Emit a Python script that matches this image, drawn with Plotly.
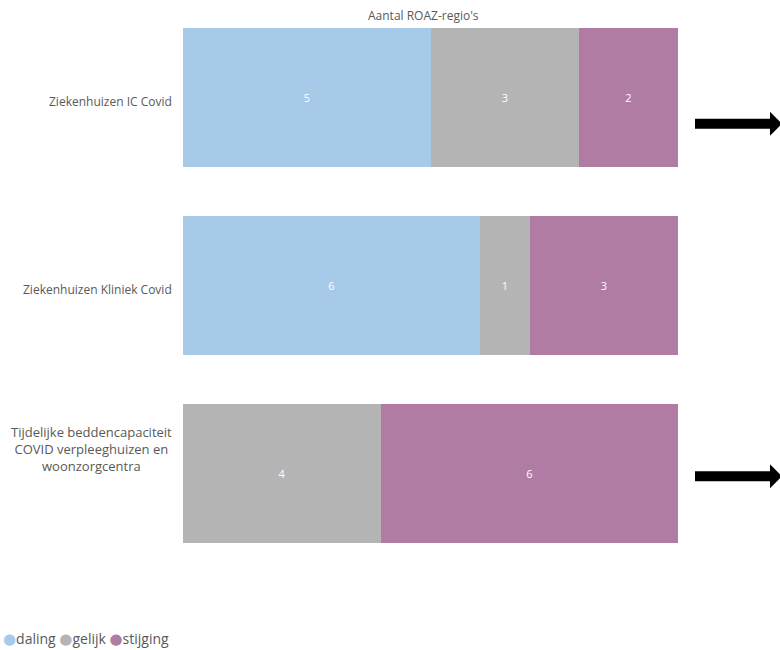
import plotly.graph_objects as go

categories = ["Ziekenhuizen IC Covid", "Ziekenhuizen Kliniek Covid",
              "Tijdelijke beddencapaciteit<br>COVID verpleeghuizen en<br>woonzorgcentra"]
series_names = ["daling", "gelijk", "stijging"]
daling = [5, 6, 0]
gelijk = [3, 1, 4]
stijging = [2, 3, 6]
colors = ["#a6cae8", "#b4b4b4", "#b07ca4"]
arrow_rows = [0, 2]
title_text = "Aantal ROAZ-regio's"

W, H = 780, 650
L, R = 183, 678
T, B = 3.5, 567.5
FONT = "Open Sans, Segoe UI, DejaVu Sans, sans-serif"

ypos = list(range(len(categories)))
fig = go.Figure()
for name, vals, col in zip(series_names, [daling, gelijk, stijging], colors):
    fig.add_trace(go.Bar(
        y=ypos, x=vals, name=name, orientation="h",
        marker=dict(color=col, line=dict(width=0)),
        width=0.74,
        text=[str(v) if v else "" for v in vals],
        textposition="inside", insidetextanchor="middle",
        textfont=dict(color="white", size=11, family=FONT),
        hoverinfo="x+name", showlegend=False,
    ))

def px_x(p):
    return (p - L) / (R - L)

def px_y(p):
    return 1 - (p - T) / (B - T)

shapes = []
annotations = []
label_offsets = [4, 4, -24]
label_sizes = [12, 12, 13]
for i, cat in enumerate(categories):
    cy = T + (i + 0.5) * (B - T) / len(categories)
    annotations.append(dict(
        x=px_x(174), y=px_y(cy + label_offsets[i]), xref="paper", yref="paper",
        text=cat, showarrow=False, xanchor="right", yanchor="middle", align="center",
        font=dict(size=label_sizes[i], color="#595959", family=FONT)))

for i in arrow_rows:
    cy = T + (i + 0.5) * (B - T) / len(categories)
    ay = cy + (26 if i == 0 else 3)
    pts = [(695, ay - 5), (770, ay - 5), (770, ay - 12), (782, ay),
           (770, ay + 12), (770, ay + 5), (695, ay + 5)]
    path = "M " + " L ".join(f"{px_x(x):.5f},{px_y(y):.5f}" for x, y in pts) + " Z"
    shapes.append(dict(type="path", xref="paper", yref="paper", path=path,
                       fillcolor="black", line=dict(width=0)))

annotations.append(dict(x=px_x(423), y=px_y(15), xref="paper", yref="paper",
                        text=title_text, showarrow=False, yanchor="middle",
                        font=dict(size=12, color="#595959", family=FONT)))

legend_text = " ".join(
    f"<span style='color:{c};font-size:15px'>●</span>{n}"
    for n, c in zip(series_names, colors))
annotations.append(dict(x=px_x(1), y=px_y(639), xref="paper", yref="paper",
                        text=legend_text, showarrow=False, xanchor="left",
                        yanchor="middle",
                        font=dict(size=14, color="#595959", family=FONT)))

fig.update_layout(
    barmode="stack", width=W, height=H,
    margin=dict(l=L, r=W - R, t=T, b=H - B),
    plot_bgcolor="white", paper_bgcolor="white",
    xaxis=dict(range=[0, 10], visible=False, fixedrange=True),
    yaxis=dict(range=[len(categories) - 0.5, -0.5], visible=False, fixedrange=True),
    showlegend=False,
    shapes=shapes, annotations=annotations, bargap=0,
)
fig.write_html("out.html")
